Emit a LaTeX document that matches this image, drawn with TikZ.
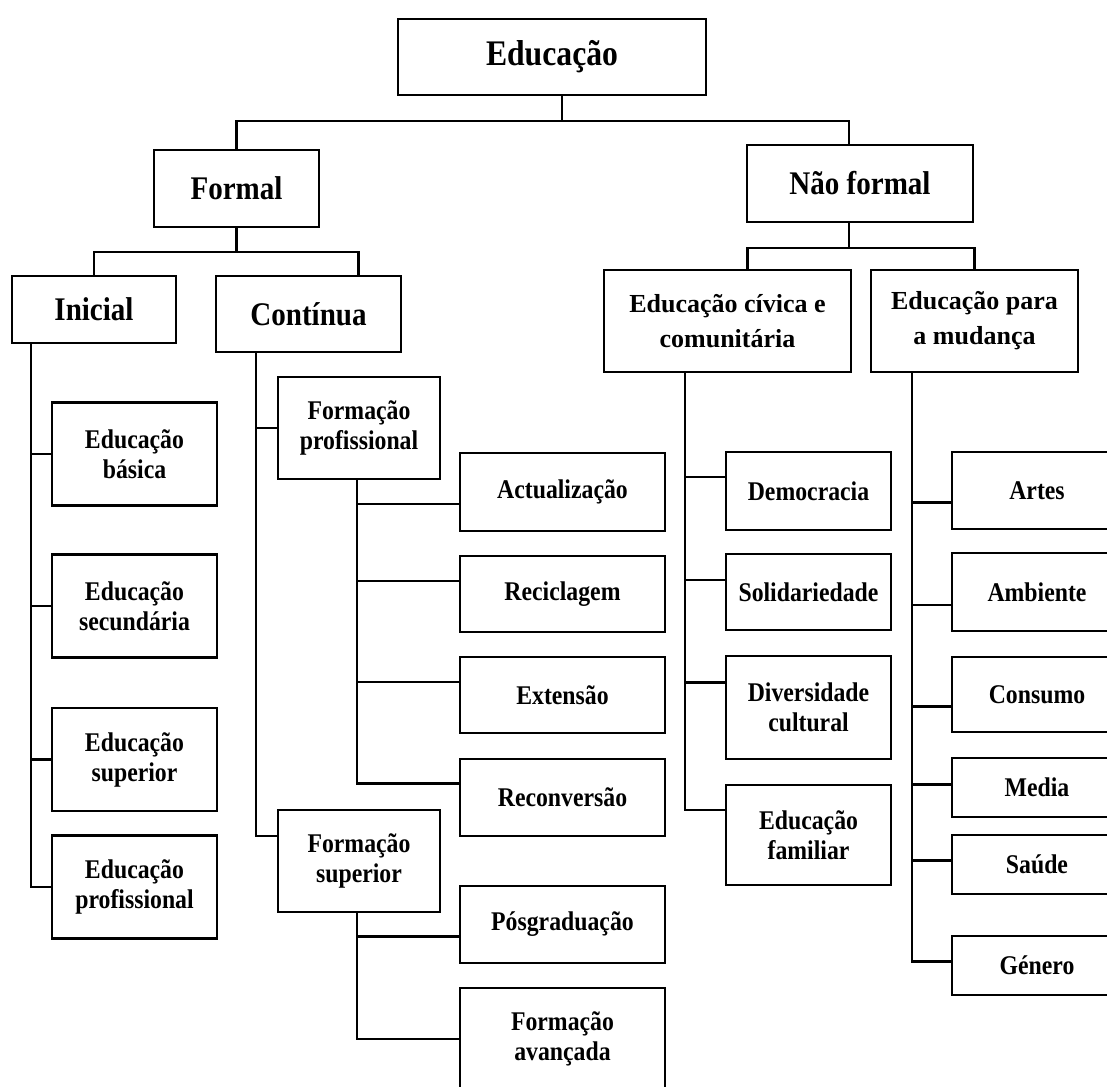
\documentclass[tikz,border=0pt]{standalone}
\usepackage{fontspec}
\setmainfont{Liberation Serif}
\newfontfamily\condfont[FakeStretch=0.88]{Liberation Serif}
\usetikzlibrary{positioning,calc}

\begin{document}
\begin{tikzpicture}[
    x=1pt, y=-1pt,
    box/.style={draw, line width=2.4pt, rectangle, align=center, inner sep=0pt},
    topbox/.style={box, font=\condfont\bfseries\fontsize{36}{40}\selectfont},
    mainbox/.style={box, font=\condfont\bfseries\fontsize{33}{38}\selectfont},
    subbox/.style={box, font=\bfseries\fontsize{26}{35}\selectfont},
    leaf/.style={box, font=\condfont\bfseries\fontsize{27}{30}\selectfont},
    link/.style={line width=2.4pt},
]
\useasboundingbox (0,0) rectangle (1107,1086);
\fill[white] (0,0) rectangle (1107,1086);

% ---------- Top levels ----------
\node[topbox, minimum width=308, minimum height=76] (edu) at (552,57) {Educação};
\node[mainbox, minimum width=165, minimum height=77] (formal) at (236.5,188.5) {Formal};
\node[mainbox, minimum width=226, minimum height=77] (naof) at (860,183.5) {Não formal};
\node[mainbox, minimum width=164, minimum height=67] (ini) at (94,309.5) {Inicial};
\node[mainbox, minimum width=185, minimum height=76] (cont) at (308.5,314) {Contínua};
\node[subbox, minimum width=247, minimum height=102] (civ) at (727.5,321) {Educação cívica e\\comunitária};
\node[subbox, minimum width=207, minimum height=102] (mud) at (974.5,321) {Educação para\\a mudança};

% ---------- Leaves ----------
\foreach \nm/\yy/\txt in {ebas/454/{Educação\\básica}, esec/606/{Educação\\secundária},
    esup/759.5/{Educação\\superior}, eprof/887/{Educação\\profissional}}
  \node[leaf, minimum width=165, minimum height=103] (\nm) at (134.5,\yy) {\txt};

\node[leaf, minimum width=162, minimum height=102] (fprof) at (359,428) {Formação\\profissional};
\node[leaf, minimum width=162, minimum height=102] (fsup) at (359,861) {Formação\\superior};

\foreach \nm/\yy/\hh/\txt in {act/492/78/Actualização, rec/594/76/Reciclagem,
    ext/695/76/Extensão, recv/797.5/77/Reconversão, posg/924.5/77/Pósgraduação,
    favan/1039/102/{Formação\\avançada}}
  \node[leaf, minimum width=205, minimum height=\hh] (\nm) at (562.5,\yy) {\txt};

\foreach \nm/\yy/\hh/\txt in {demo/491/78/Democracia, sol/592/76/Solidariedade,
    div/707.5/103/{Diversidade\\cultural}, efam/835/100/{Educação\\familiar}}
  \node[leaf, minimum width=165, minimum height=\hh] (\nm) at (808.5,\yy) {\txt};

\foreach \nm/\yy/\hh/\txt in {artes/490.5/77/Artes, amb/592/78/Ambiente,
    cons/694.5/75/Consumo, media/787.5/59/Media, saude/864.5/59/Saúde, gen/965.5/59/Género}
  \node[leaf, minimum width=170, minimum height=\hh] (\nm) at (1037,\yy) {\txt};

% ---------- Tree links ----------
\draw[link] ([xshift=10pt]edu.south) -- ++(0,25) -| (formal.north);
\draw[link] ([xshift=10pt]edu.south) -- ++(0,25) -| ([xshift=-11pt]naof.north);
\draw[link] (formal.south) -- ++(0,24) -| (ini.north);
\draw[link] (formal.south) -- ++(0,24) -| ([xshift=50pt]cont.north);
\draw[link] ([xshift=-11pt]naof.south) -- ++(0,25) -| ([xshift=20pt]civ.north);
\draw[link] ([xshift=-11pt]naof.south) -- ++(0,25) -| (mud.north);

% ---------- Trunks ----------
\foreach \nm in {ebas,esec,esup,eprof}
  \draw[link] ([xshift=20pt]ini.south west) |- (\nm.west);
\draw[link] ([xshift=41pt]cont.south west) |- (fprof.west);
\draw[link] ([xshift=41pt]cont.south west) |- ([yshift=25pt]fsup.west);
\foreach \nm/\dy in {act/-12, rec/13, ext/13, recv/14}
  \draw[link] ([xshift=80pt]fprof.south west) |- ([yshift=\dy pt]\nm.west);
\foreach \nm/\dy in {posg/-12, favan/0}
  \draw[link] ([xshift=80pt]fsup.south west) |- ([yshift=\dy pt]\nm.west);
\foreach \nm/\dy in {demo/14, sol/12, div/25, efam/25}
  \draw[link] ([xshift=82pt]civ.south west) |- ([yshift=\dy pt]\nm.west);
\foreach \nm/\dy in {artes/-12, amb/-13, cons/-12, media/3, saude/4, gen/4}
  \draw[link] ([xshift=42pt]mud.south west) |- ([yshift=\dy pt]\nm.west);

\end{tikzpicture}
\end{document}
